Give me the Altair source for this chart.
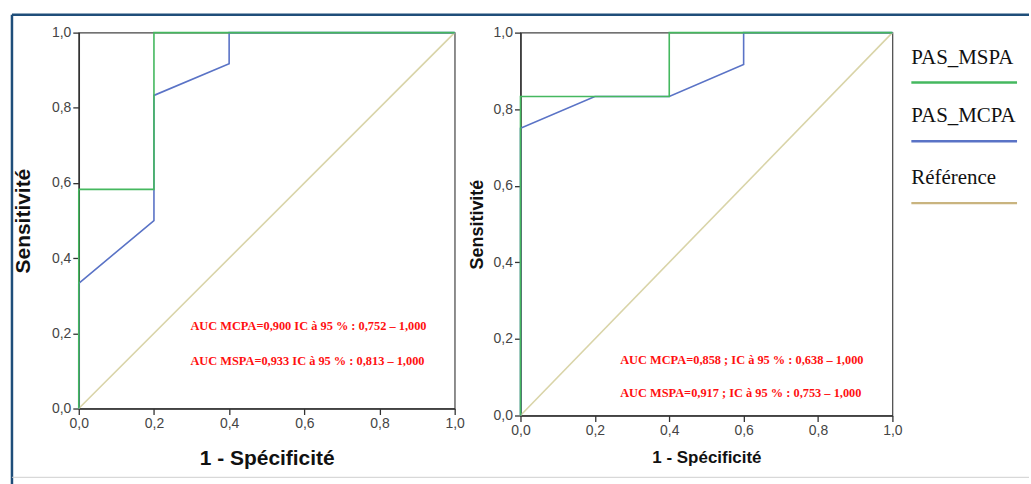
import altair as alt
import pandas as pd

# ---------------- data ----------------
series_names = ["PAS_MSPA", "PAS_MCPA", "Référence"]
series_colors = ["#45b85f", "#5a73c6", "#d9d4a8"]
legend_line_colors = ["#45b85f", "#5a73c6", "#c9b47f"]

# left panel
left_mspa_x = [0.0, 0.0, 0.2, 0.2, 1.0]
left_mspa_y = [0.0, 0.583, 0.583, 1.0, 1.0]
left_mcpa_x = [0.0, 0.0, 0.2, 0.2, 0.4, 0.4, 1.0]
left_mcpa_y = [0.0, 0.333, 0.5, 0.833, 0.917, 1.0, 1.0]
left_notes = ["AUC MCPA=0,900 IC à 95 % : 0,752 – 1,000",
              "AUC MSPA=0,933 IC à 95 % : 0,813 – 1,000"]
left_note_x = [0.297, 0.297]
left_note_y = [0.219, 0.126]

# right panel
right_mspa_x = [0.0, 0.0, 0.4, 0.4, 1.0]
right_mspa_y = [0.0, 0.833, 0.833, 1.0, 1.0]
right_mcpa_x = [0.0, 0.0, 0.2, 0.4, 0.6, 0.6, 1.0]
right_mcpa_y = [0.0, 0.75, 0.833, 0.833, 0.917, 1.0, 1.0]
right_notes = ["AUC MCPA=0,858 ; IC à 95 % : 0,638 – 1,000",
               "AUC MSPA=0,917 ; IC à 95 % : 0,753 – 1,000"]
right_note_x = [0.268, 0.268]
right_note_y = [0.146, 0.060]

ref_x = [0.0, 1.0]
ref_y = [0.0, 1.0]

ticks = [0.0, 0.2, 0.4, 0.6, 0.8, 1.0]
x_title = "1 - Spécificité"
y_title = "Sensitivité"
label_expr = "replace(format(datum.value, '.1f'), '.', ',')"


def curves_df(mspa_x, mspa_y, mcpa_x, mcpa_y):
    rows = []
    for name, xs, ys in [("Référence", ref_x, ref_y),
                         ("PAS_MCPA", mcpa_x, mcpa_y),
                         ("PAS_MSPA", mspa_x, mspa_y)]:
        for i, (a, b) in enumerate(zip(xs, ys)):
            rows.append({"x": a, "y": b, "series": name, "o": i})
    return pd.DataFrame(rows)


def make_axis(title, title_size, title_pad):
    return alt.Axis(values=ticks, labelExpr=label_expr, title=title,
                    grid=False, labelFontSize=14, titleFontSize=title_size,
                    titleFontWeight="bold", titlePadding=title_pad,
                    labelColor="#444", titleColor="#111", domainColor="#333",
                    tickColor="#333", tickSize=6, labelPadding=2,
                    labelFlush=False, labelOverlap=False,
                    labelFont="Liberation Sans", titleFont="Liberation Sans",
                    domainWidth=1.5, tickWidth=1.3)


def panel(mspa_x, mspa_y, mcpa_x, mcpa_y, notes, nx, ny, w, h,
          xt_size, yt_size, xt_pad, yt_pad, frame=False):
    df = curves_df(mspa_x, mspa_y, mcpa_x, mcpa_y)
    xs = alt.Scale(domain=[0, 1], nice=False)
    ys = alt.Scale(domain=[0, 1], nice=False)
    lines = alt.Chart(df).mark_line(strokeWidth=1.6).encode(
        x=alt.X("x:Q", scale=xs, axis=make_axis(x_title, xt_size, xt_pad)),
        y=alt.Y("y:Q", scale=ys, axis=make_axis(y_title, yt_size, yt_pad)),
        color=alt.Color("series:N", scale=alt.Scale(domain=series_names, range=series_colors),
                        legend=None),
        detail="series:N",
        order="o:Q",
    )
    ndf = pd.DataFrame({"t": notes, "x": nx, "y": ny})
    txt = alt.Chart(ndf).mark_text(
        align="left", baseline="middle", color="#ff1010", font="Liberation Serif",
        fontWeight="bold", fontSize=12.4
    ).encode(x=alt.X("x:Q", scale=xs), y=alt.Y("y:Q", scale=ys), text="t:N")
    layers = [lines, txt]
    if frame:
        fdf = pd.DataFrame({"k": [0]})
        top = alt.Chart(fdf).mark_rule(color="#1f4e7a", strokeWidth=2.5).encode(
            x=alt.value(-67), x2=alt.value(953), y=alt.value(-18))
        left = alt.Chart(fdf).mark_rule(color="#1f4e7a", strokeWidth=2.5).encode(
            x=alt.value(-67), y=alt.value(-18), y2=alt.value(454))
        bottom = alt.Chart(fdf).mark_rule(color="#d0d0d0", strokeWidth=1).encode(
            x=alt.value(-67), x2=alt.value(953), y=alt.value(446))
        layers += [top, left, bottom]
    return alt.layer(*layers).properties(width=w, height=h)


left_chart = panel(left_mspa_x, left_mspa_y, left_mcpa_x, left_mcpa_y,
                   left_notes, left_note_x, left_note_y, 377, 377, 21, 21, 17, 18, frame=True)
right_chart = panel(right_mspa_x, right_mspa_y, right_mcpa_x, right_mcpa_y,
                    right_notes, right_note_x, right_note_y, 373, 384, 17, 18, 12, 7)

# legend panel
leg = pd.DataFrame({"name": series_names, "idx": [0, 0.975, 2.0],
                    "color": legend_line_colors})
ly = alt.Scale(domain=[-0.826, 5.52], reverse=True, nice=False, zero=False)
leg_rules = alt.Chart(leg).mark_rule(strokeWidth=2.5).encode(
    x=alt.value(7), x2=alt.value(113),
    y=alt.Y("idx:Q", scale=ly, axis=None),
    color=alt.Color("color:N", scale=None),
)
leg_text = alt.Chart(leg).mark_text(
    align="left", baseline="alphabetic", dy=-19, fontSize=21,
    font="Liberation Serif", color="#111"
).encode(x=alt.value(7), y=alt.Y("idx:Q", scale=ly, axis=None), text="name:N")
legend_panel = alt.layer(leg_rules, leg_text).properties(
    width=120, height=384, view=alt.ViewBackground(strokeOpacity=0))

chart = alt.hconcat(
    left_chart,
    alt.hconcat(right_chart, legend_panel, spacing=12, bounds="flush"),
    spacing=66, bounds="flush",
).properties(
    padding={"left": 10, "top": 12, "right": 0, "bottom": 0},
    background="white",
).configure_view(stroke="#444", strokeWidth=1.2)

chart.save("out.html", embed_options={"renderer": "svg", "actions": False})
